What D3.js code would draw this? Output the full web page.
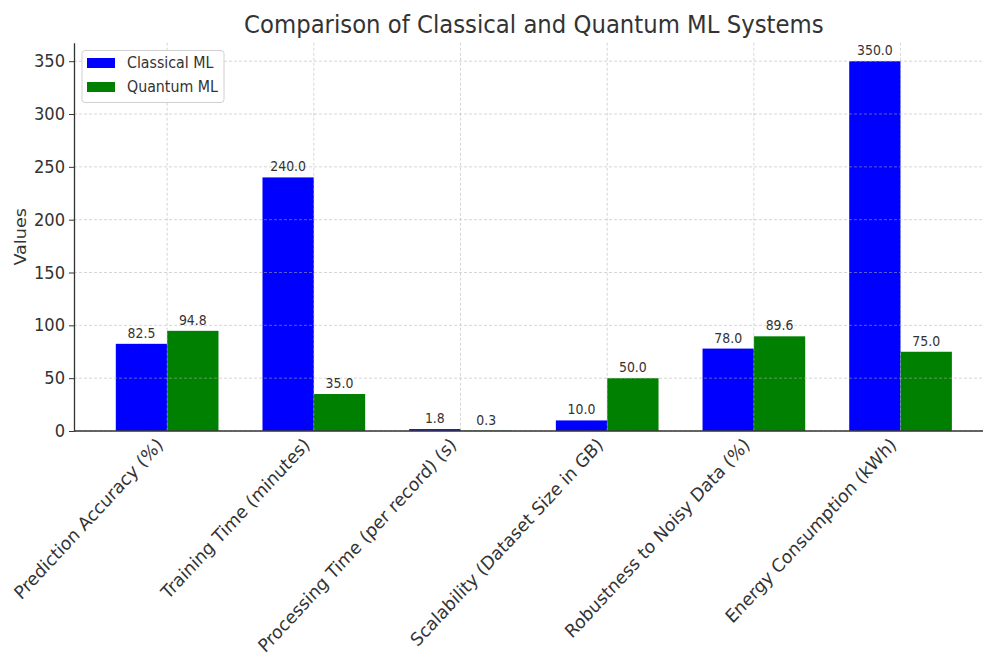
<!DOCTYPE html>
<html>
<head>
<meta charset="utf-8">
<script src="https://cdn.jsdelivr.net/npm/d3@7"></script>
<style>
  html, body { margin: 0; padding: 0; background: #fff; }
  svg { display: block; font-family: "DejaVu Sans", sans-serif; }
</style>
</head>
<body>
<svg id="chart" width="983" height="659"></svg>
<script>
const categories = [
  "Prediction Accuracy (%)",
  "Training Time (minutes)",
  "Processing Time (per record) (s)",
  "Scalability (Dataset Size in GB)",
  "Robustness to Noisy Data (%)",
  "Energy Consumption (kWh)"
];
const classicalValues = [82.5, 240.0, 1.8, 10.0, 78.0, 350.0];
const quantumValues = [94.8, 35.0, 0.3, 50.0, 89.6, 75.0];
const seriesNames = ["Classical ML", "Quantum ML"];
const seriesColors = ["#0000ff", "#008000"];
const yTicks = [0, 50, 100, 150, 200, 250, 300, 350];
const titleText = "Comparison of Classical and Quantum ML Systems";
const yLabelText = "Values";

(function () {
const svg = d3.select("#chart");
const W = 983;
const mLeft = 74, mRight = 993.7, mTop = 42.7, mBottom = 431;
const barW = 0.35;
const textColor = "#333333";
const SY = 1.08; // vertical stretch of glyphs seen in the reference

const x = d3.scaleLinear().domain([-0.635, 5.635]).range([mLeft, mRight]);
const y = d3.scaleLinear().domain([0, 367.5]).range([mBottom, mTop]);

const series = [classicalValues, quantumValues];

// bars
const gBars = svg.append("g");
series.forEach((vals, s) => {
  gBars.selectAll(null).data(vals).enter().append("rect")
    .attr("x", (d, i) => x(i + (s === 0 ? -barW : 0)))
    .attr("width", x(barW) - x(0))
    .attr("y", d => y(d))
    .attr("height", d => y(0) - y(d))
    .attr("fill", seriesColors[s]);
});

// grid (drawn above bars)
const gGrid = svg.append("g").attr("stroke", "#b0b0b0").attr("stroke-opacity", 0.65)
  .attr("stroke-width", 0.8).attr("stroke-dasharray", "3,2").attr("fill", "none");
yTicks.forEach(t => {
  gGrid.append("line").attr("x1", mLeft).attr("x2", W).attr("y1", y(t)).attr("y2", y(t));
});
categories.forEach((c, i) => {
  gGrid.append("line").attr("x1", x(i)).attr("x2", x(i)).attr("y1", mTop).attr("y2", mBottom);
});

// value labels
series.forEach((vals, s) => {
  svg.selectAll(null).data(vals).enter().append("text")
    .attr("transform", (d, i) => `translate(${x(i + (s === 0 ? -barW / 2 : barW / 2))},${y(d) - 6}) scale(1,${SY})`)
    .attr("text-anchor", "middle")
    .attr("font-size", 12.5)
    .attr("fill", textColor)
    .text(d => d.toFixed(1));
});

// y axis
const yAxis = d3.axisLeft(y).tickValues(yTicks).tickSize(5).tickPadding(4).tickSizeOuter(0);
const gy = svg.append("g").attr("transform", `translate(${mLeft},0)`).call(yAxis);
gy.select(".domain").attr("stroke", "#333").attr("stroke-width", 1.3);
gy.selectAll(".tick line").attr("stroke", "#333").attr("stroke-width", 1);
gy.selectAll(".tick text").attr("font-size", 16.3).attr("fill", textColor)
  .attr("font-family", "DejaVu Sans, sans-serif")
  .attr("transform", `scale(1,${SY})`)
  .attr("y", function () { return 0; })
  .attr("dy", "0.32em");
// compensate scale for tick text y position (ticks are translated by group)

// x axis line
svg.append("line").attr("x1", mLeft).attr("x2", W).attr("y1", mBottom).attr("y2", mBottom)
  .attr("stroke", "#333").attr("stroke-width", 1.3);

// x labels
svg.selectAll(null).data(categories).enter().append("text")
  .attr("transform", (d, i) => `translate(${x(i) - 3},${mBottom + 15}) scale(1,${SY}) rotate(-45)`)
  .attr("text-anchor", "end")
  .attr("font-size", 17)
  .attr("fill", textColor)
  .text(d => d);

// title
svg.append("text")
  .attr("transform", `translate(${(mLeft + mRight) / 2},33) scale(1,${SY})`)
  .attr("text-anchor", "middle")
  .attr("font-size", 22.8)
  .attr("fill", textColor)
  .text(titleText);

// y label
svg.append("text")
  .attr("transform", `translate(26,${(mTop + mBottom) / 2}) scale(1,${SY}) rotate(-90)`)
  .attr("text-anchor", "middle")
  .attr("font-size", 16.3)
  .attr("fill", textColor)
  .text(yLabelText);

// legend
const lg = svg.append("g").attr("transform", "translate(82,50.5)");
lg.append("rect").attr("width", 142).attr("height", 52).attr("rx", 3)
  .attr("fill", "#fff").attr("fill-opacity", 0.8).attr("stroke", "#d0d0d0");
seriesNames.forEach((n, i) => {
  lg.append("rect").attr("x", 5).attr("y", 7.5 + i * 24).attr("width", 28).attr("height", 10)
    .attr("fill", seriesColors[i]);
  lg.append("text").attr("transform", `translate(45,${17.5 + i * 24}) scale(1,${SY})`)
    .attr("font-size", 14.2)
    .attr("fill", textColor).text(n);
});
})();
</script>
</body>
</html>
